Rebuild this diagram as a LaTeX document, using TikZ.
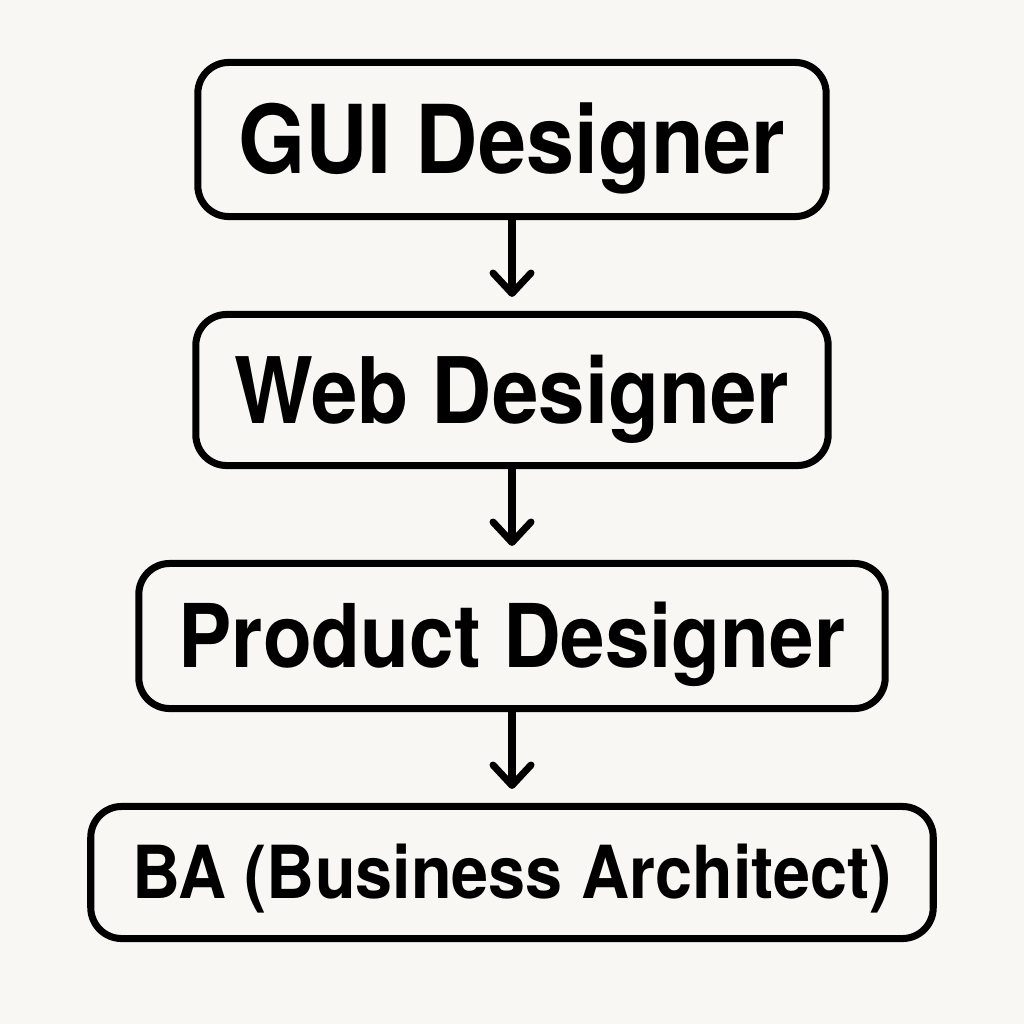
\documentclass[tikz,border=0pt]{standalone}
\usepackage{fontspec}
\setmainfont{TeX Gyre Heros}[FakeStretch=0.91]
\usetikzlibrary{arrows.meta}
\definecolor{paper}{RGB}{248,247,243}
\begin{document}
\begin{tikzpicture}[x=0.01cm,y=-0.01cm,
  role/.style={draw,line width=2pt,rounded corners=8.8pt,inner sep=0pt,
    align=center,font=\fontsize{#1pt}{#1pt}\selectfont\bfseries,
    text height=0.72*#1pt,text depth=0pt},
  flow/.style={line width=2pt,shorten >=0.14cm,
    -{Straight Barb[round,length=5.8pt,width=10.8pt]}}]
\fill[paper] (0,0) rectangle (1024,1024);
\useasboundingbox (0,0) rectangle (1024,1024);
\node[role=27,minimum width=6.28cm,minimum height=1.54cm] (gui) at (512,139.5) {GUI Designer};
\node[role=26.1,minimum width=6.32cm,minimum height=1.51cm] (web) at (512,390) {Web Designer};
\node[role=25,minimum width=7.46cm,minimum height=1.45cm] (product) at (512,636) {Product Designer};
\node[role=20.8,minimum width=8.42cm,minimum height=1.32cm] (ba) at (512,872.5) {BA (Business Architect)};
\draw[flow] (gui) -- (web);
\draw[flow] (web) -- (product);
\draw[flow] (product) -- (ba);
\end{tikzpicture}
\end{document}
